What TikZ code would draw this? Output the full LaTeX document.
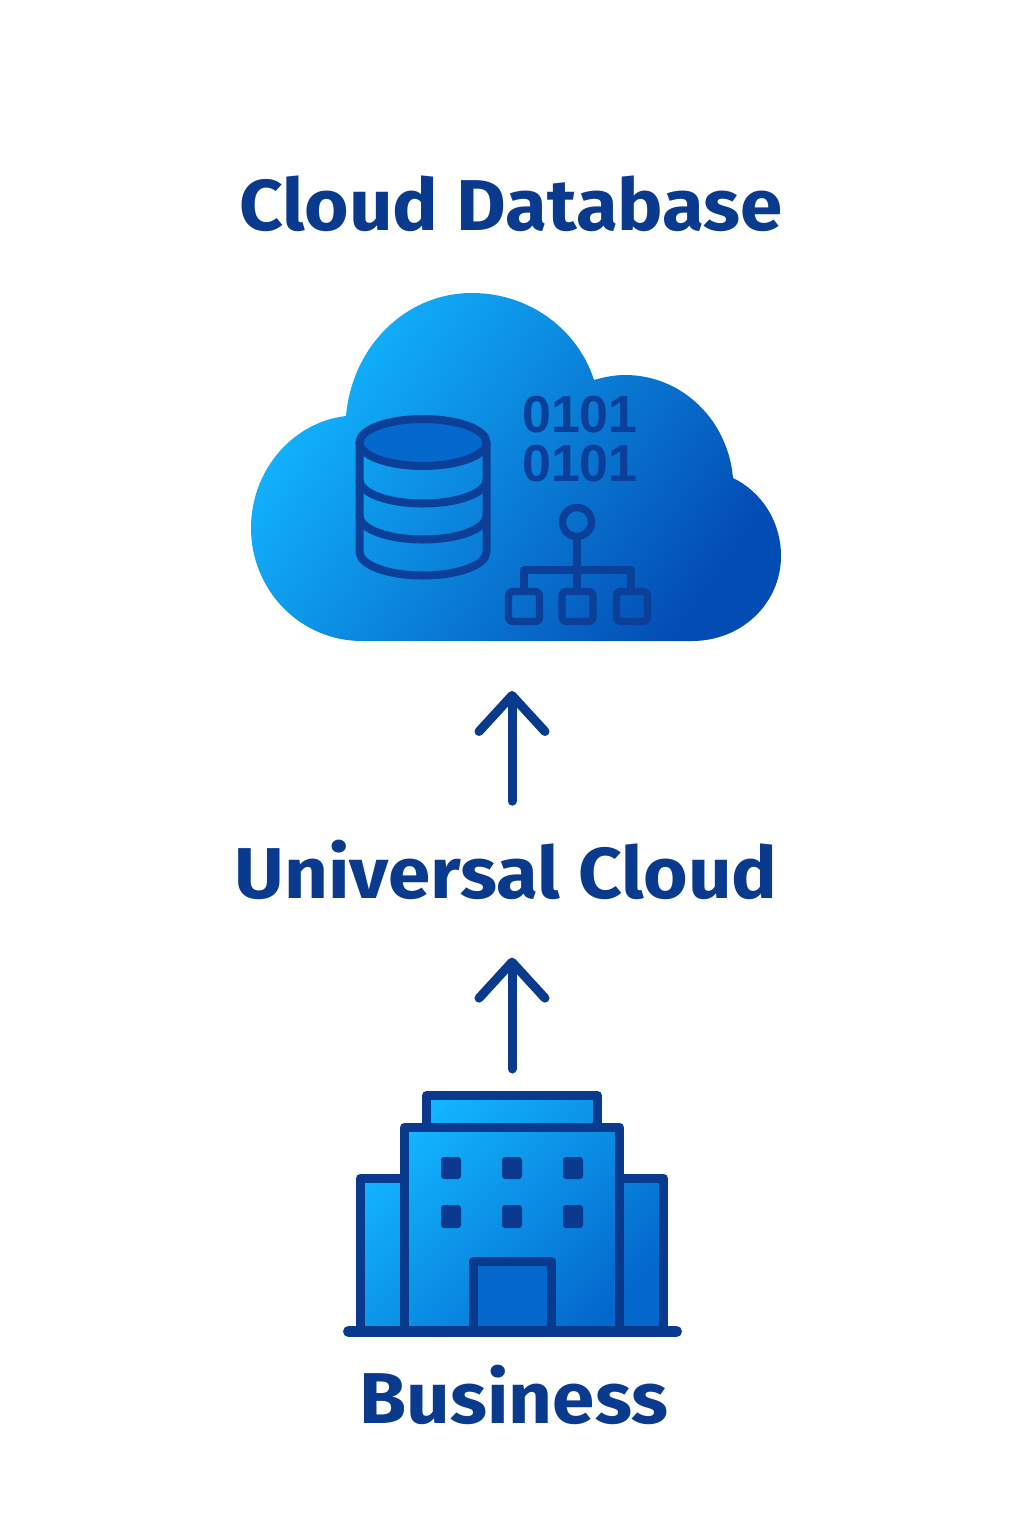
\documentclass[tikz,border=0pt]{standalone}
\usepackage{fontspec}
\setmainfont{Liberation Sans}
\newfontfamily\headfont[FakeStretch=1.06]{Fira Sans}
\usetikzlibrary{arrows.meta}
\definecolor{ink}{HTML}{0A3A8E}
\definecolor{iconink}{HTML}{0B3F98}
\definecolor{skyA}{HTML}{12B6FF}
\definecolor{skyB}{HTML}{0A8AEA}
\definecolor{skyC}{HTML}{034CB4}
\definecolor{skyD}{HTML}{0468CC}
\tikzset{
  title/.style={anchor=base,inner sep=0pt,text=ink,font=\headfont\bfseries\fontsize{36}{40}\selectfont},
  ghost/.style={inner sep=0pt,outer sep=0pt},
  flow/.style={draw=ink,line width=4.5pt,line cap=round,line join=round,
    -{Straight Barb[length=18pt,width=33pt,line width=4.5pt,round]}},
  dbline/.style={draw=iconink,line width=4pt,line cap=round,line join=round},
  treeline/.style={draw=iconink,line width=3.7pt,line join=round},
  wall/.style={draw=ink,line width=4.5pt,line join=round},
  win/.style={fill=ink,rounded corners=1.5pt},
  binary/.style={anchor=base,inner sep=0pt,text=iconink,font=\bfseries\fontsize{26}{30}\selectfont}
}
\begin{document}
\begin{tikzpicture}[x=0.5pt,y=-0.5pt]
\useasboundingbox[fill=white] (0,0) rectangle (1024,1536);
% cloud
\shade[shading=axis,top color=skyA,middle color=skyB,bottom color=skyC,shading angle=55]
  (362,641) .. controls (300,641) and (251,590) .. (251,528)
  .. controls (251,470) and (293,422) .. (346,416)
  .. controls (352,347) and (405,293) .. (472,293)
  .. controls (530,293) and (578,330) .. (594,380)
  .. controls (604,377) and (615,375) .. (625,375)
  .. controls (682,375) and (728,420) .. (733,478)
  .. controls (762,492) and (781,522) .. (781,556)
  .. controls (781,603) and (742,641) .. (692,641) -- cycle;
% database
\fill[skyD] (423,442.5) ellipse [x radius=63.5,y radius=23.5];
\draw[dbline] (359.5,442.5) -- (359.5,552) arc [start angle=180,end angle=0,x radius=63.5,y radius=23.5] -- (486.5,442.5);
\draw[dbline] (423,442.5) ellipse [x radius=63.5,y radius=23.5];
\draw[dbline] (359.5,480) arc [start angle=180,end angle=0,x radius=63.5,y radius=23.5];
\draw[dbline] (359.5,516) arc [start angle=180,end angle=0,x radius=63.5,y radius=23.5];
% binary
\node[binary] (binA) at (580,432) {0101};
\node[binary] (binB) at (580,481) {0101};
% tree
\draw[treeline] (577,522) circle [radius=14.5];
\draw[treeline] (577,536.5) -- (577,591.5);
\draw[treeline] (524,591.5) -- (524,570) -- (631,570) -- (631,591.5);
\draw[treeline,rounded corners=2pt] (508.5,591.5) rectangle (539.5,621.5);
\draw[treeline,rounded corners=2pt] (562,591.5) rectangle (593,621.5);
\draw[treeline,rounded corners=2pt] (616.5,591.5) rectangle (647.5,621.5);
% building
\shade[shading=axis,top color=skyA,middle color=skyB,bottom color=skyD,shading angle=45]
  (361,1332) -- (361,1178) -- (405,1178) -- (405,1128) -- (427,1128) -- (427,1096) -- (597,1096) -- (597,1128)
  -- (619,1128) -- (619,1178) -- (663,1178) -- (663,1332) -- cycle;
\fill[skyD] (473.5,1261.5) rectangle (551.5,1332);
\draw[wall] (426.5,1127) -- (426.5,1095.5) -- (597.5,1095.5) -- (597.5,1127);
\draw[wall] (404.5,1332) -- (404.5,1127.5) -- (619.5,1127.5) -- (619.5,1332);
\draw[wall] (404.5,1178) -- (360.5,1178) -- (360.5,1332);
\draw[wall] (619.5,1178) -- (663.5,1178) -- (663.5,1332);
\draw[wall] (473.5,1332) -- (473.5,1261.5) -- (551.5,1261.5) -- (551.5,1332);
\fill[win] (441,1157) rectangle (461,1179);
\fill[win] (502,1157) rectangle (522,1179);
\fill[win] (563,1157) rectangle (583,1179);
\fill[win] (441,1205) rectangle (461,1228);
\fill[win] (502,1205) rectangle (522,1228);
\fill[win] (563,1205) rectangle (583,1228);
\draw[draw=ink,line width=5.5pt,line cap=round] (348.5,1331.5) -- (676.5,1331.5);
% labels
\node[title] (clouddb) at (511,230) {Cloud Database};
\node[title] (univ) at (506,898) {Universal Cloud};
\node[title] (biz) at (514,1423) {Business};
% invisible anchors of the two icons
\node[ghost,minimum width=265pt,minimum height=174pt] (cloudicon) at (512,467) {};
\node[ghost,minimum width=169pt,minimum height=123pt] (bizicon) at (512,1214) {};
% connectors
\draw[flow,shorten <=19pt,shorten >=25pt] (univ.north -| cloudicon.south) -- (cloudicon.south);
\draw[flow,shorten <=11pt,shorten >=29pt] (bizicon.north) -- (univ.south -| bizicon.north);
\end{tikzpicture}
\end{document}
